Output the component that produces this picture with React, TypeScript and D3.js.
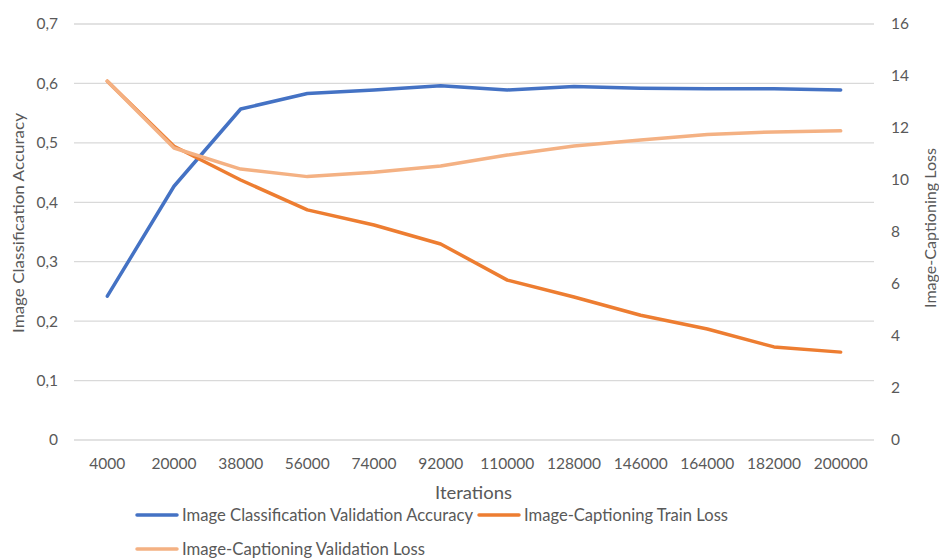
import React from "react";
import * as d3 from "d3";

const categories = ["4000","20000","38000","56000","74000","92000","110000","128000","146000","164000","182000","200000"];
const accuracy = [0.242,0.427,0.557,0.583,0.589,0.596,0.589,0.595,0.592,0.591,0.591,0.589];
const trainLoss = [13.8,11.3,10.0,8.85,8.27,7.54,6.15,5.5,4.8,4.27,3.58,3.38];
const valLoss = [13.8,11.23,10.42,10.13,10.3,10.54,10.96,11.31,11.54,11.75,11.85,11.89];
const leftTicks = [0,0.1,0.2,0.3,0.4,0.5,0.6,0.7];
const rightTicks = [0,2,4,6,8,10,12,14,16];
const seriesNames = ["Image Classification Validation Accuracy","Image-Captioning Train Loss","Image-Captioning Validation Loss"];

const W = 939, H = 559;
const M = { left: 74, right: 874, top: 24, bottom: 440 };
const FONT = "Lato, 'Open Sans', sans-serif";
const TXT = "#595959";
const COLORS = ["#4472C4", "#ED7D31", "#F4B183"];

export default function App() {
  const x = d3.scaleBand().domain(categories).range([M.left, M.right]);
  const yL = d3.scaleLinear().domain([0, 0.7]).range([M.bottom, M.top]);
  const yR = d3.scaleLinear().domain([0, 16]).range([M.bottom, M.top]);
  const cx = (c: string) => (x(c) as number) + x.bandwidth() / 2;
  const lineL = d3.line<number>().x((_, i) => cx(categories[i])).y((v) => yL(v));
  const lineR = d3.line<number>().x((_, i) => cx(categories[i])).y((v) => yR(v));
  const fmt = (v: number) => (v === 0 ? "0" : v.toFixed(1).replace(".", ","));

  const legend = [
    { x0: 137, y: 515, i: 0, len: 291 },
    { x0: 479, y: 515, i: 1, len: 204 },
    { x0: 137, y: 549, i: 2, len: 243 },
  ];

  return (
    <svg width={W} height={H} style={{ position: "absolute", left: 0, top: 0, background: "#fff" }} fontFamily={FONT}>
      {leftTicks.map((t) => (
        <line key={t} x1={M.left} x2={M.right} y1={yL(t)} y2={yL(t)} stroke="#D9D9D9" strokeWidth={1.3} />
      ))}
      {leftTicks.map((t) => (
        <text key={"l" + t} x={58} y={yL(t)} dy="0.35em" textAnchor="end" fontSize={15.5} fill={TXT}>{fmt(t)}</text>
      ))}
      {rightTicks.map((t) => (
        <text key={"r" + t} x={891} y={yR(t)} dy="0.35em" textAnchor="start" fontSize={15.5} fill={TXT}>{t}</text>
      ))}
      {categories.map((c) => (
        <text key={c} x={cx(c)} y={464} dy="0.35em" textAnchor="middle" fontSize={15.5} fill={TXT}>{c}</text>
      ))}
      <text x={435} y={493} dy="0.35em" fontSize={16.5} fill={TXT} textLength={77} lengthAdjust="spacingAndGlyphs">Iterations</text>
      <text transform={`translate(18,333) rotate(-90)`} dy="0.35em" textAnchor="start" fontSize={16} fill={TXT} textLength={220} lengthAdjust="spacingAndGlyphs">Image Classification Accuracy</text>
      <text transform={`translate(930,308) rotate(-90)`} dy="0.35em" textAnchor="start" fontSize={16} fill={TXT} textLength={160} lengthAdjust="spacingAndGlyphs">Image-Captioning Loss</text>

      <path d={lineL(accuracy) || ""} fill="none" stroke={COLORS[0]} strokeWidth={3.5} strokeLinejoin="round" strokeLinecap="round" />
      <path d={lineR(trainLoss) || ""} fill="none" stroke={COLORS[1]} strokeWidth={3.5} strokeLinejoin="round" strokeLinecap="round" />
      <path d={lineR(valLoss) || ""} fill="none" stroke={COLORS[2]} strokeWidth={3.5} strokeLinejoin="round" strokeLinecap="round" />

      {legend.map((l) => (
        <g key={l.i}>
          <line x1={l.x0} x2={l.x0 + 40} y1={l.y} y2={l.y} stroke={COLORS[l.i]} strokeWidth={3.5} strokeLinecap="round" />
          <text x={l.x0 + 45} y={l.y} dy="0.35em" fontSize={16.5} fill={TXT} textLength={l.len} lengthAdjust="spacingAndGlyphs">{seriesNames[l.i]}</text>
        </g>
      ))}
    </svg>
  );
}
